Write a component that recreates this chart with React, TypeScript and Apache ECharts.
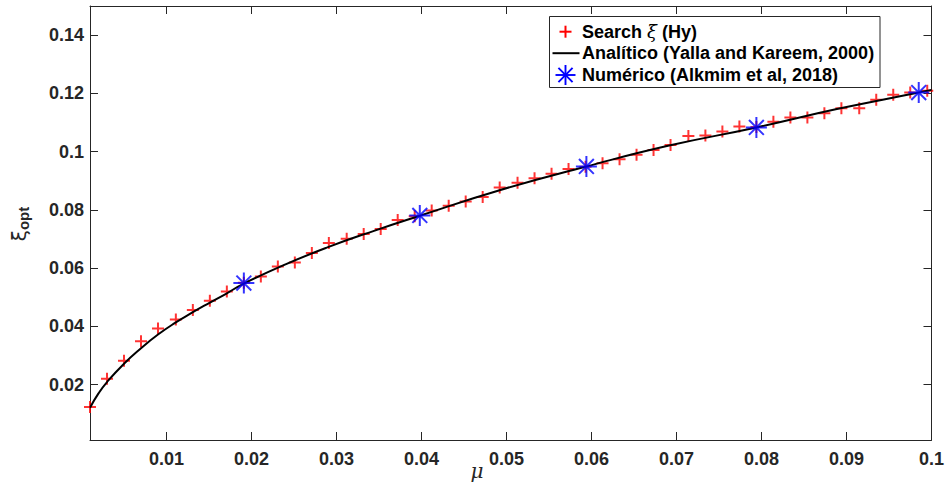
import React, { useEffect, useRef } from "react";
import * as echarts from "echarts";

// Search ξ (Hy) points
const muSearch = [0.001, 0.003, 0.005, 0.007, 0.009, 0.0111, 0.0131, 0.0151, 0.0171, 0.0191, 0.0211, 0.0231, 0.0251, 0.0271, 0.0291, 0.0312, 0.0332, 0.0352, 0.0372, 0.0392, 0.0412, 0.0432, 0.0452, 0.0472, 0.0492, 0.0513, 0.0533, 0.0553, 0.0573, 0.0593, 0.0613, 0.0633, 0.0653, 0.0673, 0.0693, 0.0714, 0.0734, 0.0754, 0.0774, 0.0794, 0.0814, 0.0834, 0.0854, 0.0874, 0.0894, 0.0915, 0.0935, 0.0955, 0.0975, 0.0995];
const xiSearch = [0.0123, 0.022, 0.0282, 0.0349, 0.0393, 0.0424, 0.0456, 0.0488, 0.052, 0.055, 0.0571, 0.0606, 0.0619, 0.0652, 0.0686, 0.0701, 0.0717, 0.0734, 0.0765, 0.0778, 0.0798, 0.0814, 0.0829, 0.0844, 0.0877, 0.0893, 0.0909, 0.0924, 0.094, 0.0948, 0.096, 0.0974, 0.0989, 0.1006, 0.1023, 0.1054, 0.1055, 0.1069, 0.1086, 0.1085, 0.1103, 0.1117, 0.1117, 0.1132, 0.1149, 0.1149, 0.1178, 0.1195, 0.1203, 0.1209];

// Analítico (Yalla and Kareem, 2000) curve
const muLine = [0.001, 0.002, 0.003, 0.005, 0.007, 0.009, 0.011, 0.013, 0.015, 0.017, 0.0191, 0.024, 0.029, 0.0345, 0.0398, 0.049, 0.0594, 0.069, 0.0794, 0.089, 0.0985, 0.1];
const xiLine = [0.0121, 0.017, 0.0209, 0.0272, 0.0325, 0.0372, 0.0412, 0.0447, 0.048, 0.0512, 0.0547, 0.0613, 0.0672, 0.0729, 0.078, 0.0866, 0.0949, 0.102, 0.1083, 0.1147, 0.1203, 0.1212];

// Numérico (Alkmim et al, 2018)
const muNum = [0.0191, 0.0398, 0.0594, 0.0794, 0.0985];
const xiNum = [0.0549, 0.0781, 0.0949, 0.1083, 0.1203];

const xTicks = [0.01, 0.02, 0.03, 0.04, 0.05, 0.06, 0.07, 0.08, 0.09, 0.1];
const yTicks = [0.02, 0.04, 0.06, 0.08, 0.1, 0.12, 0.14];

const legendLabels = ["Search ξ (Hy)", "Analítico (Yalla and Kareem, 2000)", "Numérico (Alkmim et al, 2018)"];

const PLUS = "path://M5,0H7V5H12V7H7V12H5V7H0V5H5Z";
const STAR =
  "path://M0,9.05H20V10.95H0Z M9.05,0H10.95V20H9.05Z M3.6,2.26L17.74,16.4L16.4,17.74L2.26,3.6Z M17.74,3.6L3.6,17.74L2.26,16.4L16.4,2.26Z";

const AX = "#262626";
const FONT = "Liberation Sans";

export default function App() {
  const ref = useRef<HTMLDivElement>(null);
  useEffect(() => {
    if (!ref.current) return;
    const chart = echarts.init(ref.current, undefined, { renderer: "svg" });

    const xBase = {
      type: "value" as const,
      min: 0.001,
      max: 0.1,
      splitLine: { show: false },
      axisLine: { show: true, onZero: false, lineStyle: { color: AX, width: 1 } },
      axisTick: { show: true, inside: true, length: 8, customValues: xTicks, lineStyle: { color: AX } },
    };
    const yBase = {
      type: "value" as const,
      min: 0.001,
      max: 0.15,
      splitLine: { show: false },
      axisLine: { show: true, onZero: false, lineStyle: { color: AX, width: 1 } },
      axisTick: { show: true, inside: true, length: 8, customValues: yTicks, lineStyle: { color: AX } },
    };

    const legendY = [31.7, 53.2, 75];
    const iconX = 565.5;
    const textX = 582;
    const richLabel = (s: string) => s.replace("ξ", "{x|ξ}");

    const starLines = [0, 45, 90, 135].map((deg) => {
      const r = 10;
      const a = (deg * Math.PI) / 180;
      return {
        type: "line",
        z: 101,
        shape: {
          x1: iconX - r * Math.cos(a),
          y1: legendY[2] - r * Math.sin(a),
          x2: iconX + r * Math.cos(a),
          y2: legendY[2] + r * Math.sin(a),
        },
        style: { stroke: "#0000ff", lineWidth: 1.9 },
      };
    });

    chart.setOption({
      animation: false,
      backgroundColor: "#ffffff",
      grid: { left: 90, top: 6, right: 14, bottom: 44, containLabel: false },
      xAxis: [
        {
          ...xBase,
          position: "bottom",
          axisLabel: {
            show: true,
            customValues: xTicks,
            margin: 10,
            color: AX,
            fontWeight: "bold",
            fontSize: 18,
            fontFamily: FONT,
            formatter: (v: number) => String(v),
          },
        },
        { ...xBase, position: "top", axisLabel: { show: false, customValues: xTicks } },
      ],
      yAxis: [
        {
          ...yBase,
          position: "left",
          axisLabel: {
            show: true,
            customValues: yTicks,
            margin: 6,
            color: AX,
            fontWeight: "bold",
            fontSize: 18,
            fontFamily: FONT,
            formatter: (v: number) => String(v),
          },
        },
        { ...yBase, position: "right", axisLabel: { show: false, customValues: yTicks } },
      ],
      series: [
        {
          name: legendLabels[0],
          type: "scatter",
          z: 2,
          symbol: PLUS,
          symbolSize: 12,
          itemStyle: { color: "#ff0000" },
          data: muSearch.map((m, i) => [m, xiSearch[i]]),
        },
        {
          name: legendLabels[1],
          type: "line",
          z: 3,
          smooth: 0.5,
          showSymbol: false,
          lineStyle: { color: "#000000", width: 2 },
          data: muLine.map((m, i) => [m, xiLine[i]]),
        },
        {
          name: legendLabels[2],
          type: "scatter",
          z: 4,
          symbol: STAR,
          symbolSize: 21,
          itemStyle: { color: "#0000ff" },
          data: muNum.map((m, i) => [m, xiNum[i]]),
        },
      ],
      graphic: [
        {
          type: "rect",
          z: 100,
          shape: { x: 549.5, y: 16.5, width: 330.5, height: 71 },
          style: { fill: "#ffffff", stroke: AX, lineWidth: 1 },
        },
        {
          type: "line",
          z: 101,
          shape: { x1: iconX - 6, y1: legendY[0], x2: iconX + 6, y2: legendY[0] },
          style: { stroke: "#ff0000", lineWidth: 2 },
        },
        {
          type: "line",
          z: 101,
          shape: { x1: iconX, y1: legendY[0] - 6, x2: iconX, y2: legendY[0] + 6 },
          style: { stroke: "#ff0000", lineWidth: 2 },
        },
        {
          type: "line",
          z: 101,
          shape: { x1: 552.5, y1: legendY[1], x2: 579.5, y2: legendY[1] },
          style: { stroke: "#000000", lineWidth: 2 },
        },
        ...starLines,
        ...legendLabels.map((t, i) => ({
          type: "text",
          z: 101,
          x: textX,
          y: legendY[i],
          style: {
            text: richLabel(t),
            fill: "#000000",
            fontSize: 18,
            fontWeight: "bold",
            fontFamily: FONT,
            verticalAlign: "middle",
            rich: {
              x: { fontStyle: "italic", fontWeight: "normal", fontFamily: "DejaVu Serif", fontSize: 18, fill: "#000000" },
            },
          },
        })),
        {
          type: "text",
          z: 101,
          x: 19,
          y: 224,
          rotation: Math.PI / 2,
          style: {
            text: "{a|ξ}{b|opt}",
            align: "center",
            verticalAlign: "middle",
            rich: {
              a: { fontSize: 20, fontFamily: "DejaVu Sans", fill: AX },
              b: { fontSize: 15, fontWeight: "bold", fontFamily: FONT, fill: AX, padding: [9, 0, 0, 0] },
            },
          },
        },
        {
          type: "text",
          z: 101,
          x: 477,
          y: 471,
          style: {
            text: "μ",
            align: "center",
            verticalAlign: "middle",
            fontSize: 20,
            fontStyle: "italic",
            fontFamily: "DejaVu Serif",
            fill: AX,
          },
        },
      ],
    });
    return () => chart.dispose();
  }, []);
  return (
    <div
      ref={ref}
      style={{ position: "fixed", left: 0, top: 0, width: 947, height: 484, background: "#fff" }}
    />
  );
}
